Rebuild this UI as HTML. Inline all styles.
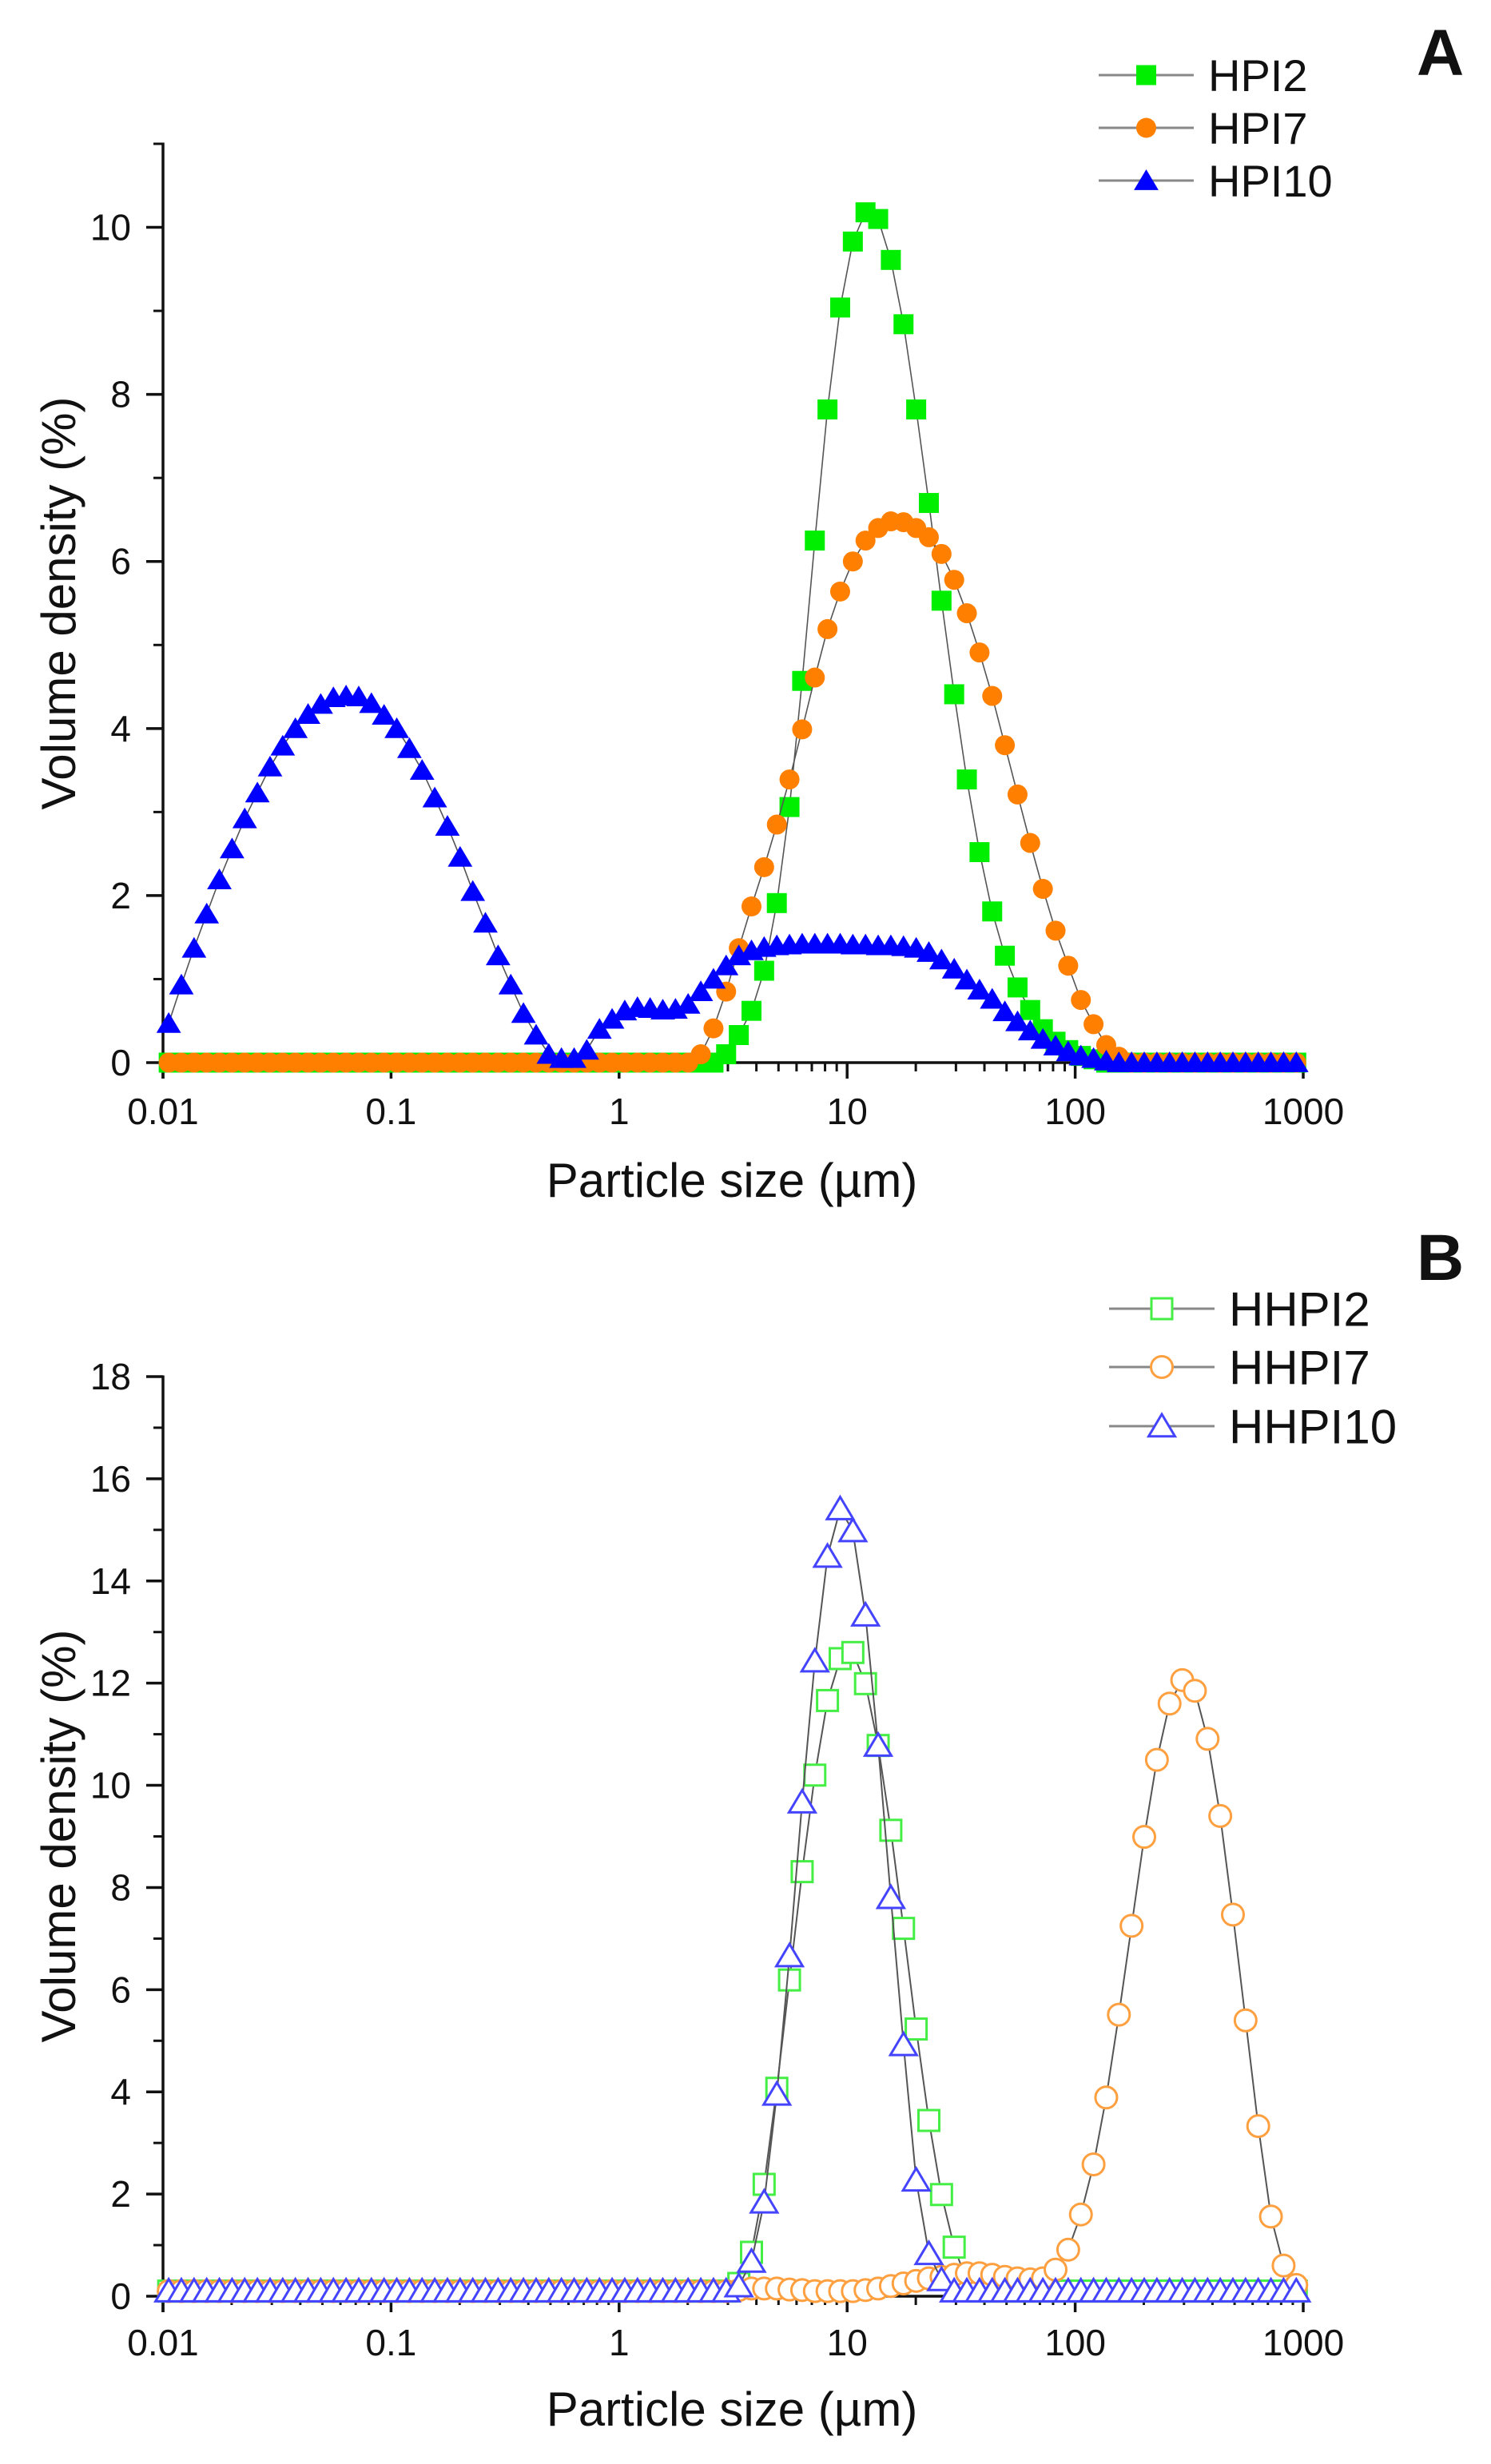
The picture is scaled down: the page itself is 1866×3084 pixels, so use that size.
<!DOCTYPE html>
<html><head><meta charset="utf-8"><title>Particle size distribution</title>
<style>
html,body{margin:0;padding:0;background:#fff;}
svg{display:block;font-family:"Liberation Sans",Arial,sans-serif;}
</style></head>
<body>
<svg id="fig" width="1866" height="3084" viewBox="0 0 1866 3084" xmlns="http://www.w3.org/2000/svg">
<rect width="1866" height="3084" fill="#fff"/>
<g id="panelA"></g>
<g id="panelB"></g>
</svg>
<script>
// ---- data ----
const binCount = 90;
const xTickLabels = ["0.01","0.1","1","10","100","1000"];
const yTicksA = ["0","2","4","6","8","10"];
const yTicksB = ["0","2","4","6","8","10","12","14","16","18"];

const hpi2 = [0,0,0,0,0,0,0,0,0,0,0,0,0,0,0,0,0,0,0,0,0,0,0,0,0,0,0,0,0,0,0,0,0,0,0,0,0,0,0,0,0,0,0,0,
0.1,0.33,0.62,1.1,1.91,3.06,4.57,6.25,7.82,9.04,9.83,10.18,10.1,9.61,8.84,7.82,6.7,5.53,4.41,3.39,2.52,1.81,1.28,0.9,0.63,0.4,0.25,0.15,0.08,0.04,
0,0,0,0,0,0,0,0,0,0,0,0,0,0,0,0];
const hpi7 = [0,0,0,0,0,0,0,0,0,0,0,0,0,0,0,0,0,0,0,0,0,0,0,0,0,0,0,0,0,0,0,0,0,0,0,0,0,0,0,0,0,0,
0.1,0.41,0.85,1.37,1.87,2.34,2.85,3.39,3.99,4.61,5.19,5.64,6.0,6.25,6.4,6.48,6.47,6.4,6.29,6.09,5.78,5.38,4.91,4.39,3.8,3.21,2.63,2.08,1.58,1.16,0.75,0.46,0.21,0.07,
0,0,0,0,0,0,0,0,0,0,0,0,0,0];
const hpi10 = [0.47,0.93,1.37,1.78,2.19,2.56,2.92,3.23,3.54,3.79,4.0,4.17,4.29,4.37,4.39,4.38,4.3,4.16,4.0,3.76,3.5,3.17,2.83,2.46,2.05,1.67,1.28,0.93,0.59,0.33,0.1,0.05,0.05,0.15,
0.4,0.52,0.62,0.66,0.65,0.63,0.64,0.7,0.85,1.0,1.16,1.28,1.34,1.38,
1.4,1.41,1.42,1.42,1.42,1.42,1.41,1.41,1.4,1.4,1.39,1.37,
1.32,1.23,1.12,0.99,0.87,0.76,0.61,0.49,0.38,0.28,0.2,0.13,0.08,0.05,0.02,
0,0,0,0,0,0,0,0,0,0,0,0,0,0,0];
const hhpi2 = [0.1,0.1,0.1,0.1,0.1,0.1,0.1,0.1,0.1,0.1,0.1,0.1,0.1,0.1,0.1,0.1,0.1,0.1,0.1,0.1,0.1,0.1,0.1,0.1,0.1,0.1,0.1,0.1,0.1,0.1,0.1,0.1,0.1,0.1,0.1,0.1,0.1,0.1,0.1,0.1,0.1,0.1,0.1,0.1,0.1,
0.25,0.86,2.19,4.07,6.19,8.31,10.2,11.66,12.48,12.6,11.99,10.78,9.12,7.2,5.23,3.44,1.99,0.96,0.3,
0.1,0.1,0.1,0.1,0.1,0.1,0.1,0.1,0.1,0.1,0.1,0.1,0.1,0.1,0.1,0.1,0.1,0.1,0.1,0.1,0.1,0.1,0.1,0.1,0.1,0.1];
const hhpi7 = [0.1,0.1,0.1,0.1,0.1,0.1,0.1,0.1,0.1,0.1,0.1,0.1,0.1,0.1,0.1,0.1,0.1,0.1,0.1,0.1,0.1,0.1,0.1,0.1,0.1,0.1,0.1,0.1,0.1,0.1,0.1,0.1,0.1,0.1,0.1,0.1,0.1,0.1,0.1,0.1,0.1,0.1,0.1,0.1,0.1,
0.12,0.15,0.15,0.15,0.13,0.12,0.1,0.1,0.1,0.1,0.12,0.15,0.2,0.25,0.3,0.35,0.38,0.42,0.45,0.45,0.42,0.38,0.35,0.33,0.35,
0.52,0.91,1.6,2.58,3.89,5.51,7.25,8.99,10.5,11.6,12.06,11.85,10.91,9.4,7.47,5.4,3.33,1.56,0.6,0.22];
const hhpi10 = [0.1,0.1,0.1,0.1,0.1,0.1,0.1,0.1,0.1,0.1,0.1,0.1,0.1,0.1,0.1,0.1,0.1,0.1,0.1,0.1,0.1,0.1,0.1,0.1,0.1,0.1,0.1,0.1,0.1,0.1,0.1,0.1,0.1,0.1,0.1,0.1,0.1,0.1,0.1,0.1,0.1,0.1,0.1,0.1,0.1,
0.2,0.68,1.84,3.95,6.66,9.67,12.43,14.48,15.41,14.98,13.33,10.78,7.8,4.92,2.27,0.83,0.32,
0.1,0.1,0.1,0.1,0.1,0.1,0.1,0.1,0.1,0.1,0.1,0.1,0.1,0.1,0.1,0.1,0.1,0.1,0.1,0.1,0.1,0.1,0.1,0.1,0.1,0.1,0.1,0.1];

// particle size bins (log grid, 18 per decade)
const sizes = [];
for (let k = 0; k < binCount; k++) sizes.push(0.01 * Math.pow(10, (k + 0.45) / 18));

const NS = "http://www.w3.org/2000/svg";
function mk(parent, tag, attrs, text) {
  const e = document.createElementNS(NS, tag);
  for (const a in attrs) e.setAttribute(a, attrs[a]);
  if (text !== undefined) e.textContent = text;
  parent.appendChild(e);
  return e;
}

function drawPanel(g, cfg) {
  const L = 204, R = 1631, T = cfg.top, B = cfg.bottom;
  const xs = v => L + (Math.log10(v) + 2) / 5 * (R - L);
  const ys = v => B - v / cfg.ymax * (B - T);
  const ax = mk(g, "g", {});
  
  
  // x ticks
  for (let d = -2; d <= 3; d++) {
    const x = xs(Math.pow(10, d));
    const t = mk(ax, "line", {x1:x, x2:x, y1:B, y2:B + 20, stroke:"#111", "stroke-width":3.5});
    
    
    const lb = mk(ax, "text", {x:x, y:cfg.xLabelY, "font-size":46, "text-anchor":"middle", fill:"#111"}, xTickLabels[d + 2]);
    
    
    if (d < 3) for (let m = 2; m <= 9; m++) {
      const xm = xs(m * Math.pow(10, d));
      const mt = mk(ax, "line", {x1:xm, x2:xm, y1:B, y2:B + 11, stroke:"#111", "stroke-width":3});
      
      
    }
  }
  // y ticks
  for (let i = 0; i < cfg.yLabels.length; i++) {
    const v = +cfg.yLabels[i];
    const y = ys(v);
    const t = mk(ax, "line", {x1:L - 21, x2:L, y1:y, y2:y, stroke:"#111", "stroke-width":3.5});
    
    
    const lb = mk(ax, "text", {x:164, y:y + 16, "font-size":46, "text-anchor":"end", fill:"#111"}, cfg.yLabels[i]);
    
    
  }
  for (let v = 1; v <= cfg.ymax; v += 2) {
    const y = ys(v);
    const t = mk(ax, "line", {x1:L - 12, x2:L, y1:y, y2:y, stroke:"#111", "stroke-width":3});
    
    
  }
  const xl = mk(ax, "line", {x1:L - 2, x2:R + 1.5, y1:B, y2:B, stroke:"#111", "stroke-width":3.5});
  
  
  const yl = mk(ax, "line", {x1:L, x2:L, y1:T - 1.5, y2:B + 20, stroke:"#111", "stroke-width":3.5});
  
  
  const xt = mk(ax, "text", {x:916, y:cfg.xTitleY, "font-size":60, "text-anchor":"middle", fill:"#111"}, "Particle size (µm)");
  
  
  const yt = mk(ax, "text", {x:0, y:0, "font-size":60, "text-anchor":"middle", fill:"#111", transform:"translate(94," + cfg.yTitleY + ") rotate(-90)"}, "Volume density (%)");
  
  
  const pl = mk(g, "text", {x:1773, y:cfg.letterY, "font-size":82, "font-weight":"bold", fill:"#111"}, cfg.letter);
  
  

  // series
  cfg.series.forEach((s, si) => {
    const sg = mk(g, "g", {});
    
    
    const pts = s.values.map((v, k) => xs(sizes[k]).toFixed(1) + "," + ys(v).toFixed(1)).join(" ");
    const line = mk(sg, "polyline", {points:pts, fill:"none", stroke:"#555", "stroke-width":cfg.lineW});
    
    
    s.values.forEach((v, k) => {
      const m = marker(sg, s, xs(sizes[k]), ys(v), cfg.open);
      
      
    });
    // legend
    const ly = cfg.legendY[si];
    const lg = mk(g, "g", {});
    
    
    const ll = mk(lg, "line", {x1:cfg.legX1, x2:cfg.legX2, y1:ly, y2:ly, stroke:"#888", "stroke-width":3});
    
    
    const lm = marker(lg, s, (cfg.legX1 + cfg.legX2) / 2, ly, cfg.open);
    
    
    const lt = mk(lg, "text", {x:cfg.legX2 + 18, y:ly + cfg.legFont * 0.36, "font-size":cfg.legFont, fill:"#111"}, s.name);
    
    
  });
}

function marker(parent, s, x, y, open) {
  const fill = open ? "#fff" : s.color;
  const st = open ? {stroke:s.color, "stroke-width":3} : {};
  const sz = open ? 13 : 12.5;
  if (s.shape === "square") {
    return mk(parent, "rect", Object.assign({x:x - sz, y:y - sz, width:2 * sz, height:2 * sz, fill:fill}, st));
  } else if (s.shape === "circle") {
    return mk(parent, "circle", Object.assign({cx:x, cy:y, r:open ? 13.5 : 12.5, fill:fill}, st));
  } else {
    const h = open ? 15 : 14;
    const pts = [x + "," + (y - h), (x + h * 1.1) + "," + (y + h * 0.85), (x - h * 1.1) + "," + (y + h * 0.85)].join(" ");
    return mk(parent, "polygon", Object.assign({points:pts, fill:fill}, st));
  }
}

drawPanel(document.getElementById("panelA"), {
  top:180, bottom:1330, ymax:11, yLabels:yTicksA, xLabelY:1407, xTitleY:1498, yTitleY:755,
  letter:"A", letterY:94, open:false, lineW:1.6,
  legendY:[94, 160, 226], legX1:1375, legX2:1494, legFont:56,
  series:[
    {name:"HPI2", values:hpi2, color:"#00ee00", shape:"square"},
    {name:"HPI7", values:hpi7, color:"#ff8000", shape:"circle"},
    {name:"HPI10", values:hpi10, color:"#0000ff", shape:"triangle"}
  ]
});
drawPanel(document.getElementById("panelB"), {
  top:1723, bottom:2874, ymax:18, yLabels:yTicksB, xLabelY:2948, xTitleY:3036, yTitleY:2298,
  letter:"B", letterY:1602, open:true, lineW:2,
  legendY:[1638, 1711, 1785], legX1:1388, legX2:1520, legFont:60,
  series:[
    {name:"HHPI2", values:hhpi2, color:"#44ee44", shape:"square"},
    {name:"HHPI7", values:hhpi7, color:"#ffa040", shape:"circle"},
    {name:"HHPI10", values:hhpi10, color:"#4444ff", shape:"triangle"}
  ]
});
</script>
</body></html>
